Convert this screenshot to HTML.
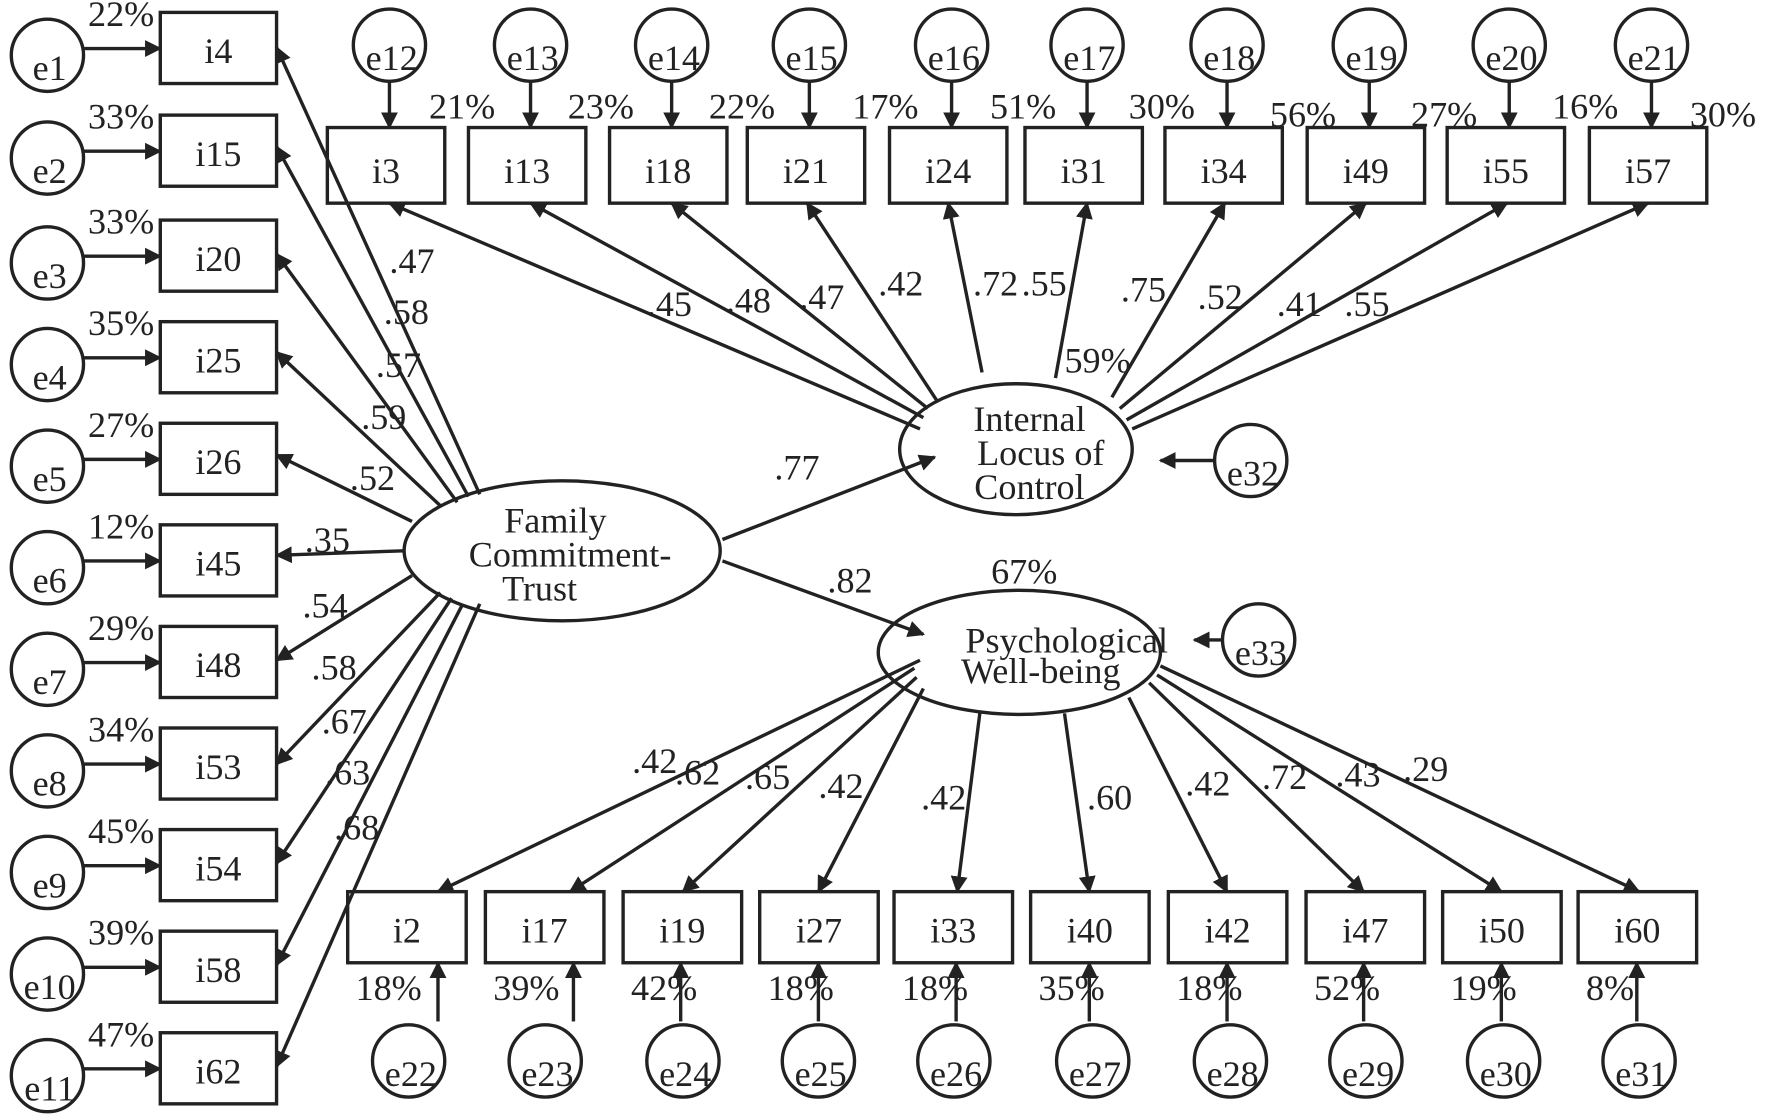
<!DOCTYPE html>
<html><head><meta charset="utf-8"><style>html,body{margin:0;padding:0;background:#fff}svg{display:block}</style></head><body>
<svg width="1770" height="1114" viewBox="0 0 1568 987" preserveAspectRatio="none" xmlns="http://www.w3.org/2000/svg" font-family="Liberation Serif, serif" font-size="32" fill="#222">
<defs><marker id="a" viewBox="0 0 10 10" refX="9" refY="5" markerWidth="5" markerHeight="5" orient="auto"><path d="M0,0L10,5L0,10z" fill="#222"/></marker></defs>
<g stroke="#222" stroke-width="3" fill="none" id="g">
</g>
<script>
const g=document.getElementById('g'),S=g.parentNode,NS="http://www.w3.org/2000/svg";
function el(t,a,p){const e=document.createElementNS(NS,t);for(const k in a)e.setAttribute(k,a[k]);(p||g).appendChild(e);return e}
function tx(x,y,s,anchor){const e=el('text',{x:x,y:y,'text-anchor':anchor||'start',stroke:'none',fill:'#222'},S);e.textContent=s;}
function ln(x1,y1,x2,y2){el('line',{x1,y1,x2,y2,'marker-end':'url(#a)'})}
function box(x1,y1,x2,y2,s){el('rect',{x:x1,y:y1,width:x2-x1,height:y2-y1});tx((x1+x2)/2,y2-18,s,'middle')}
function circ(cx,cy,s){el('circle',{cx,cy,r:32});tx(cx+2,cy+22,s,'middle')}
const L=['i4','i15','i20','i25','i26','i45','i48','i53','i54','i58','i62'];
const Lp=['22%','33%','33%','35%','27%','12%','29%','34%','45%','39%','47%'];
const Ly=[11,102,195,285,375,465,555,645,735,825,915];
L.forEach((n,i)=>{const y=Ly[i];box(142,y,245,y+63,n);circ(42,y+38,'e'+(i+1));ln(74,y+32,142,y+32);tx(78,y+12,Lp[i]);});
const T=['i3','i13','i18','i21','i24','i31','i34','i49','i55','i57'];
const Tx=[290,415,540,662,788,908,1032,1158,1282,1408];
const Tp=[[380,105,'21%'],[503,105,'23%'],[628,105,'22%'],[755,105,'17%'],[877,105,'51%'],[1000,105,'30%'],[1125,112,'56%'],[1250,112,'27%'],[1375,105,'16%'],[1497,112,'30%']];
T.forEach((n,i)=>{const x=Tx[i];box(x,113,x+104,180,n);circ(x+55,40,'e'+(12+i));ln(x+55,72,x+55,113);tx(Tp[i][0],Tp[i][1],Tp[i][2]);});
const B=['i2','i17','i19','i27','i33','i40','i42','i47','i50','i60'];
const Bx=[308,430,552,673,792,913,1035,1157,1278,1398];
const Ba=[388,508,603,725,847,965,1087,1208,1330,1450];
const Bc=[362,483,605,725,845,968,1090,1210,1332,1452];
const Bp=['18%','39%','42%','18%','18%','35%','18%','52%','19%','8%'];
B.forEach((n,i)=>{const x=Bx[i];box(x,790,x+105,853,n);circ(Bc[i],940,'e'+(22+i));ln(Ba[i],905,Ba[i],853);tx(x+7,886,Bp[i]);});
el('ellipse',{cx:498,cy:488,rx:140,ry:62});
tx(492,472,'Family','middle');tx(505,502,'Commitment-','middle');tx(478,532,'Trust','middle');
el('ellipse',{cx:900,cy:398,rx:103,ry:58});
tx(912,382,'Internal','middle');tx(922,412,'Locus of','middle');tx(912,442,'Control','middle');
el('ellipse',{cx:903,cy:578,rx:125,ry:55});
tx(945,578,'Psychological','middle');tx(922,605,'Well-being','middle');
circ(1108,408,'e32');ln(1076,408,1028,408);
circ(1115,567,'e33');ln(1083,567,1058,567);
[[425,438,245,42],[415,440,245,130],[405,445,245,225],[390,448,245,312],[365,462,245,403],[358,488,245,492],[365,510,245,585],[390,525,245,677],[400,530,245,765],[410,535,245,855],[425,535,245,945]].forEach(a=>ln(...a));
[[345,242,'.47'],[340,287,'.58'],[333,334,'.57'],[320,380,'.59'],[310,434,'.52'],[270,489,'.35'],[268,547,'.54'],[276,602,'.58'],[285,650,'.67'],[288,695,'.63'],[296,744,'.68']].forEach(t=>tx(t[0],t[1],t[2]));
[[815,380,345,180],[818,370,470,180],[822,362,595,180],[830,355,715,180],[870,330,840,180],[935,335,963,180],[985,352,1085,180],[992,362,1210,180],[998,372,1335,180],[1003,380,1460,180]].forEach(a=>ln(...a));
[[573,280,'.45'],[643,277,'.48'],[708,274,'.47'],[778,262,'.42'],[862,262,'.72'],[905,262,'.55'],[993,267,'.75'],[1061,274,'.52'],[1131,280,'.41'],[1191,280,'.55'],[943,330,'59%']].forEach(t=>tx(t[0],t[1],t[2]));
ln(640,478,828,405);ln(640,497,818,562);
tx(686,425,'.77');tx(733,525,'.82');tx(878,517,'67%');
[[815,585,388,790],[810,592,505,790],[812,600,605,790],[818,610,725,790],[868,632,848,790],[943,632,965,790],[1000,618,1087,790],[1018,605,1208,790],[1025,598,1330,790],[1028,590,1452,790]].forEach(a=>ln(...a));
[[560,685,'.42'],[598,695,'.62'],[660,699,'.65'],[725,707,'.42'],[816,717,'.42'],[963,717,'.60'],[1050,705,'.42'],[1118,699,'.72'],[1183,697,'.43'],[1243,692,'.29']].forEach(t=>tx(t[0],t[1],t[2]));
</script>
</svg>
</body></html>
